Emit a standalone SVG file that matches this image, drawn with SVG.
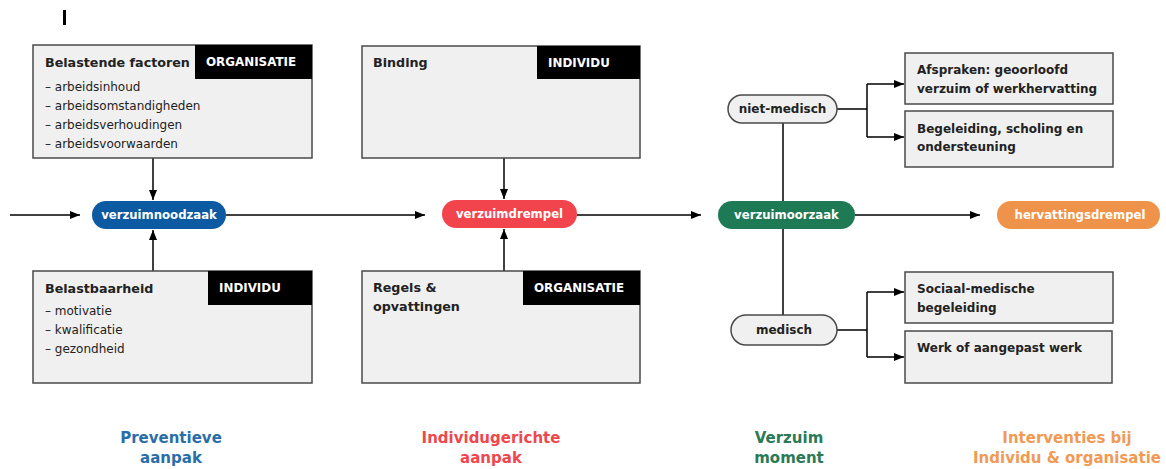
<svg xmlns="http://www.w3.org/2000/svg" width="1166" height="469" viewBox="0 0 1166 469">
<defs>
<marker id="ah" viewBox="0 0 10 8" refX="10" refY="4" markerWidth="10" markerHeight="8" markerUnits="userSpaceOnUse" orient="auto"><path d="M0,0 L10,4 L0,8 Z" fill="#000"/></marker>
</defs>
<style>
text{font-family:"DejaVu Sans","Liberation Sans",sans-serif;}
.box{fill:#f0f0f0;stroke:#4a4a4a;stroke-width:1.5;}
.tag{fill:#000;}
.tagt{fill:#fff;font-weight:bold;font-size:11.9px;}
.ttl{fill:#222;font-weight:bold;font-size:12.7px;}
.itm{fill:#222;font-size:12px;}
.bt{fill:#222;font-weight:bold;font-size:12px;}
.pt{fill:#fff;font-weight:bold;font-size:11.7px;text-anchor:middle;}
.lbl{font-weight:bold;font-size:15px;text-anchor:middle;}
.ln{fill:none;stroke:#000;stroke-width:1.5;}
</style>
<rect width="1166" height="469" fill="#fff"/>
<rect x="63" y="10" width="3" height="15" fill="#000"/>
<g id="connectors">
<line class="ln" x1="10" y1="215" x2="80" y2="215" marker-end="url(#ah)"/>
<line class="ln" x1="226" y1="215" x2="425" y2="215" marker-end="url(#ah)"/>
<line class="ln" x1="577" y1="215" x2="701" y2="215" marker-end="url(#ah)"/>
<line class="ln" x1="855" y1="215" x2="980" y2="215" marker-end="url(#ah)"/>
<line class="ln" x1="153" y1="158" x2="153" y2="200" marker-end="url(#ah)"/>
<line class="ln" x1="153" y1="271" x2="153" y2="230" marker-end="url(#ah)"/>
<line class="ln" x1="504" y1="158" x2="504" y2="199" marker-end="url(#ah)"/>
<line class="ln" x1="504" y1="271" x2="504" y2="229" marker-end="url(#ah)"/>
<line class="ln" x1="783" y1="123" x2="783" y2="201"/>
<line class="ln" x1="783" y1="229" x2="783" y2="315"/>
<path class="ln" d="M837,109 H867 M867,84 V137"/>
<line class="ln" x1="867" y1="84" x2="904" y2="84" marker-end="url(#ah)"/>
<line class="ln" x1="867" y1="137" x2="904" y2="137" marker-end="url(#ah)"/>
<path class="ln" d="M837,330 H867 M867,292 V357"/>
<line class="ln" x1="867" y1="292" x2="904" y2="292" marker-end="url(#ah)"/>
<line class="ln" x1="867" y1="357" x2="904" y2="357" marker-end="url(#ah)"/>
</g>
<g id="belastende-factoren">
<rect class="box" x="33" y="45" width="279" height="113"/>
<rect class="tag" x="195" y="45" width="117" height="34"/>
<text class="tagt" x="206" y="66">ORGANISATIE</text>
<text class="ttl" x="45" y="67">Belastende factoren</text>
<text class="itm" x="45" y="91">– arbeidsinhoud</text>
<text class="itm" x="45" y="110">– arbeidsomstandigheden</text>
<text class="itm" x="45" y="129">– arbeidsverhoudingen</text>
<text class="itm" x="45" y="148">– arbeidsvoorwaarden</text>
</g>
<g id="belastbaarheid">
<rect class="box" x="33" y="271" width="279" height="112"/>
<rect class="tag" x="208" y="271" width="104" height="34"/>
<text class="tagt" x="219" y="292">INDIVIDU</text>
<text class="ttl" x="45" y="293">Belastbaarheid</text>
<text class="itm" x="45" y="315">– motivatie</text>
<text class="itm" x="45" y="334">– kwalificatie</text>
<text class="itm" x="45" y="353">– gezondheid</text>
</g>
<g id="binding">
<rect class="box" x="362" y="46" width="278" height="112"/>
<rect class="tag" x="537" y="46" width="103" height="33"/>
<text class="tagt" x="548" y="67">INDIVIDU</text>
<text class="ttl" x="373" y="67">Binding</text>
</g>
<g id="regels">
<rect class="box" x="362" y="271" width="278" height="112"/>
<rect class="tag" x="523" y="271" width="117" height="34"/>
<text class="tagt" x="534" y="292">ORGANISATIE</text>
<text class="ttl" x="373" y="292">Regels &amp;</text>
<text class="ttl" x="373" y="311">opvattingen</text>
</g>
<g id="verzuimnoodzaak">
<rect x="92" y="201" width="134" height="28" rx="14" fill="#0c5aa2"/>
<text class="pt" x="159" y="219">verzuimnoodzaak</text>
</g>
<g id="verzuimdrempel">
<rect x="442" y="200" width="135" height="28" rx="14" fill="#f2444d"/>
<text class="pt" x="509.5" y="218">verzuimdrempel</text>
</g>
<g id="verzuimoorzaak">
<rect x="718" y="201" width="137" height="28" rx="14" fill="#1e7a55"/>
<text class="pt" x="786.5" y="219">verzuimoorzaak</text>
</g>
<g id="hervattingsdrempel">
<rect x="997" y="201" width="163" height="28" rx="14" fill="#f0934a"/>
<text class="pt" x="1080" y="219">hervattingsdrempel</text>
</g>
<g id="niet-medisch">
<rect x="728" y="95" width="109" height="28" rx="14" fill="#f0f0f0" stroke="#4a4a4a" stroke-width="1.5"/>
<text class="bt" x="782.5" y="113" text-anchor="middle">niet-medisch</text>
</g>
<g id="medisch">
<rect x="731" y="315" width="106" height="30" rx="15" fill="#f0f0f0" stroke="#4a4a4a" stroke-width="1.5"/>
<text class="bt" x="784" y="334" text-anchor="middle">medisch</text>
</g>
<g id="afspraken">
<rect class="box" x="905" y="53" width="208" height="51"/>
<text class="bt" x="917" y="74">Afspraken: geoorloofd</text>
<text class="bt" x="917" y="93">verzuim of werkhervatting</text>
</g>
<g id="begeleiding">
<rect class="box" x="905" y="111" width="208" height="56"/>
<text class="bt" x="917" y="133">Begeleiding, scholing en</text>
<text class="bt" x="917" y="151">ondersteuning</text>
</g>
<g id="sociaal-medisch">
<rect class="box" x="905" y="272" width="208" height="51"/>
<text class="bt" x="917" y="293">Sociaal-medische</text>
<text class="bt" x="917" y="312">begeleiding</text>
</g>
<g id="werk">
<rect class="box" x="905" y="331" width="207" height="52"/>
<text class="bt" x="917" y="352">Werk of aangepast werk</text>
</g>
<g id="labels">
<text class="lbl" x="171" y="443" fill="#2a6ea8">Preventieve</text>
<text class="lbl" x="171" y="463" fill="#2a6ea8">aanpak</text>
<text class="lbl" x="491" y="443" fill="#f0474d">Individugerichte</text>
<text class="lbl" x="491" y="463" fill="#f0474d">aanpak</text>
<text class="lbl" x="789" y="443" fill="#2a7a55">Verzuim</text>
<text class="lbl" x="789" y="463" fill="#2a7a55">moment</text>
<text class="lbl" x="1067" y="443" fill="#f09a55">Interventies bij</text>
<text class="lbl" x="1067" y="463" fill="#f09a55">Individu &amp; organisatie</text>
</g>
</svg>
